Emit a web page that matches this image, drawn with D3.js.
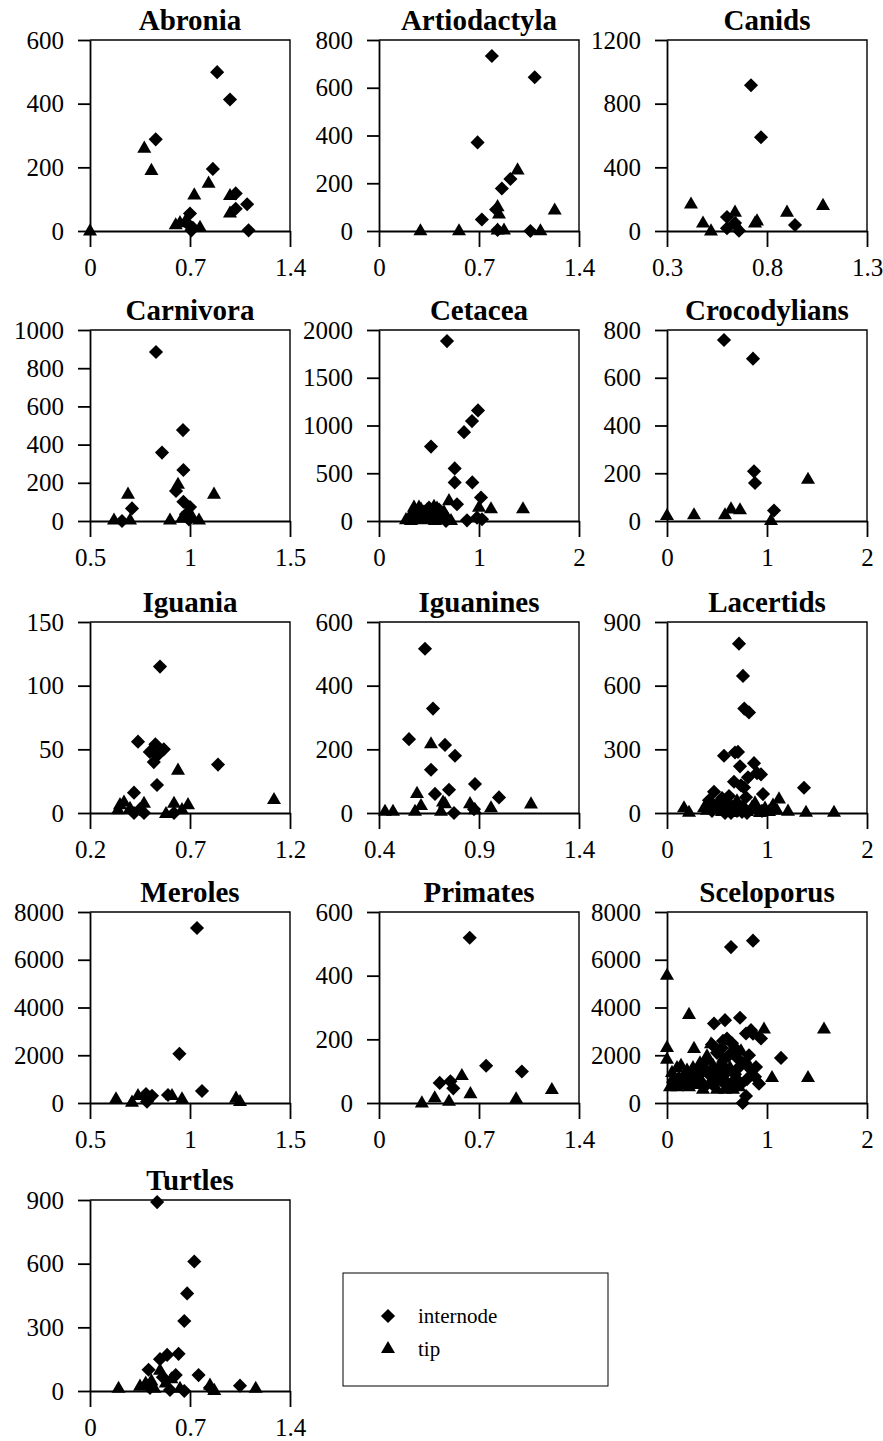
<!DOCTYPE html>
<html>
<head>
<meta charset="utf-8">
<script src="https://cdn.jsdelivr.net/npm/d3@7"></script>
<style>
  body { margin: 0; background: #fff; }
  text { font-family: "Liberation Serif", "Times New Roman", serif; fill: #000; }
</style>
</head>
<body>
<div id="chart"></div>
<script>
// panel titles, in reading order
var titles = ['Abronia', 'Artiodactyla', 'Canids', 'Carnivora', 'Cetacea', 'Crocodylians',
  'Iguania', 'Iguanines', 'Lacertids', 'Meroles', 'Primates', 'Sceloporus', 'Turtles'];

// tick values for each panel (x then y)
var xTickSets = [
  [0, 0.7, 1.4], [0, 0.7, 1.4], [0.3, 0.8, 1.3],
  [0.5, 1, 1.5], [0, 1, 2], [0, 1, 2],
  [0.2, 0.7, 1.2], [0.4, 0.9, 1.4], [0, 1, 2],
  [0.5, 1, 1.5], [0, 0.7, 1.4], [0, 1, 2],
  [0, 0.7, 1.4]
];
var yTickSets = [
  [0, 200, 400, 600], [0, 200, 400, 600, 800], [0, 400, 800, 1200],
  [0, 200, 400, 600, 800, 1000], [0, 500, 1000, 1500, 2000], [0, 200, 400, 600, 800],
  [0, 50, 100, 150], [0, 200, 400, 600], [0, 300, 600, 900],
  [0, 2000, 4000, 6000, 8000], [0, 200, 400, 600], [0, 2000, 4000, 6000, 8000],
  [0, 300, 600, 900]
];

// internode points (diamonds)
var abroniaInternode = [[0.89,499],[0.98,413],[0.46,288],[0.86,195],[1.02,118],[1.10,84],[1.02,70],[0.70,55],[1.11,2],[0.71,2],[0.69,20],[0.72,10]];
var artiodactylaInternode = [[0.79,733],[1.09,644],[0.69,371],[0.92,218],[0.86,178],[0.72,48],[0.82,90],[1.06,0],[0.83,4]];
var canidsInternode = [[0.72,916],[0.77,589],[0.60,88],[0.60,17],[0.66,2],[0.94,38],[0.64,50]];
var carnivoraInternode = [[0.83,885],[0.965,476],[0.86,358],[0.967,267],[0.93,157],[0.967,101],[1.0,73],[0.71,66],[0.66,0],[0.995,8],[0.98,35]];
var cetaceaInternode = [[0.68,1884],[0.99,1158],[0.93,1046],[0.85,930],[0.52,779],[0.757,551],[0.757,404],[0.933,404],[1.02,246],[0.78,175],[0.88,7],[0.67,0],[1.03,18],[0.98,35],[0.45,100],[0.55,50],[0.60,120],[0.40,60],[0.50,140],[0.63,80]];
var crocodyliansInternode = [[0.57,758],[0.86,680],[0.87,208],[0.88,159],[1.07,44]];
var iguaniaInternode = [[0.55,115],[0.44,56],[0.527,54],[0.569,50],[0.499,48],[0.519,40],[0.535,45],[0.84,38],[0.535,22],[0.42,16],[0.42,0],[0.47,0],[0.62,0],[0.45,3]];
var iguaninesInternode = [[0.63,516],[0.67,328],[0.55,232],[0.73,214],[0.78,180],[0.66,136],[0.88,91],[0.75,73],[0.68,60],[1.0,49],[0.775,0],[0.875,12]];
var lacertidsInternode = [[0.72,798],[0.76,646],[0.773,492],[0.82,474],[0.57,270],[0.68,285],[0.71,288],[0.73,220],[0.87,235],[0.90,188],[0.94,182],[0.67,147],[0.81,168],[0.77,120],[0.96,89],[1.37,119],[0.47,100],[0.79,74],[0.42,60],[0.50,40],[0.55,70],[0.60,50],[0.62,80],[0.65,30],[0.70,10],[0.75,5],[0.80,0],[0.85,20],[0.45,10],[0.58,0],[0.95,10],[1.05,20],[0.74,130],[0.64,0]];
var merolesInternode = [[1.035,7330],[0.947,2060],[1.06,504],[0.78,378],[0.81,300],[0.89,336],[0.785,56]];
var primatesInternode = [[0.635,519],[0.75,117],[1.0,99],[0.425,63],[0.50,68],[0.52,46]];
var sceloporusInternode = [[0.64,6530],[0.86,6800],[0.47,3330],[0.58,3470],[0.73,3570],[0.79,2910],[0.84,3050],[0.94,2700],[1.14,1890],[0.92,810],[0.89,1510],[0.79,294],[0.757,0],[0.60,2700],[0.65,2500],[0.55,2300],[0.45,2450],[0.50,2100],[0.62,2000],[0.70,1900],[0.78,1700],[0.84,1400],[0.88,1100],[0.40,1800],[0.35,1500],[0.30,1300],[0.42,1200],[0.48,1400],[0.55,1600],[0.60,1300],[0.68,1200],[0.72,1500],[0.80,1000],[0.25,1100],[0.20,900],[0.33,900],[0.45,800],[0.52,1000],[0.58,800],[0.66,900],[0.74,800],[0.15,1000],[0.38,700],[0.62,700],[0.56,2600],[0.68,2300],[0.82,2000],[0.86,2900]];
var turtlesInternode = [[0.47,890],[0.73,610],[0.68,460],[0.66,330],[0.62,175],[0.49,150],[0.54,170],[0.41,100],[0.51,65],[0.60,75],[0.76,75],[1.05,25],[0.84,15],[0.42,15],[0.56,5],[0.66,0]];

// tip points (triangles)
var abroniaTip = [[0.38,262],[0.43,192],[0.73,115],[0.83,152],[0.98,113],[0.98,58],[0.60,21],[0.63,28],[0.67,34],[0.77,13],[0.0,2]];
var artiodactylaTip = [[0.97,258],[1.23,90],[0.83,104],[0.84,73],[0.29,3],[0.56,3],[0.83,6],[0.875,6],[1.13,3]];
var canidsTip = [[0.42,173],[0.48,53],[0.52,4],[0.64,122],[0.645,46],[0.74,53],[0.75,67],[0.90,122],[1.08,164]];
var carnivoraTip = [[0.69,143],[1.12,143],[0.94,195],[0.62,8],[0.70,8],[0.90,8],[0.96,17],[1.045,8],[1.01,26]];
var cetaceaTip = [[1.44,133],[1.12,133],[0.70,218],[0.27,20],[0.30,40],[0.33,80],[0.35,150],[0.38,100],[0.40,150],[0.42,130],[0.45,60],[0.48,120],[0.52,90],[0.55,160],[0.58,140],[0.60,80],[0.62,50],[0.65,100],[0.32,10],[0.38,30],[0.44,20],[0.50,30],[0.56,10],[0.64,20],[0.68,40],[0.72,10],[1.0,150]];
var crocodyliansTip = [[0.0,25],[0.27,28],[0.58,28],[0.64,53],[0.73,49],[1.04,4],[1.41,177]];
var iguaniaTip = [[0.64,34],[1.12,11],[0.35,7],[0.37,9],[0.47,8],[0.58,0],[0.62,8],[0.69,7],[0.66,3],[0.34,3],[0.40,4]];
var iguaninesTip = [[0.66,219],[0.59,63],[0.61,25],[0.58,7],[0.43,7],[0.47,7],[0.72,36],[0.73,31],[0.71,7],[0.855,31],[0.88,12],[0.96,18],[1.16,30]];
var lacertidsTip = [[0.17,27],[0.22,6],[0.37,27],[1.12,69],[1.21,11],[1.39,6],[1.67,6],[0.40,15],[0.45,30],[0.50,20],[0.52,50],[0.55,10],[0.60,40],[0.63,25],[0.65,5],[0.68,35],[0.72,15],[0.76,40],[0.80,10],[0.85,30],[0.90,20],[0.93,5],[0.98,25],[1.02,10],[1.06,40],[1.10,15],[0.88,50],[0.70,60]];
var merolesTip = [[0.63,196],[0.71,56],[0.74,336],[0.91,336],[0.96,196],[1.23,224],[1.25,84]];
var primatesTip = [[0.58,88],[0.64,31],[0.30,2],[0.39,18],[0.49,7],[0.96,15],[1.21,44]];
var sceloporusTip = [[0.0,5370],[0.0,2350],[0.0,1860],[0.22,3730],[0.27,2310],[0.97,3120],[1.57,3120],[1.05,1090],[1.41,1090],[0.74,2210],[0.44,2500],[0.05,1300],[0.08,900],[0.10,1500],[0.12,1100],[0.14,1600],[0.16,800],[0.18,1200],[0.20,1400],[0.22,700],[0.24,1000],[0.26,1500],[0.28,800],[0.30,1100],[0.33,1700],[0.36,600],[0.38,1300],[0.40,2000],[0.43,900],[0.46,1600],[0.50,600],[0.53,1200],[0.56,1900],[0.60,900],[0.63,1500],[0.66,600],[0.70,1100],[0.72,700],[0.03,700],[0.06,1050],[0.10,700],[0.34,1000],[0.48,1100],[0.58,600]];
var turtlesTip = [[0.20,15],[1.16,15],[0.49,100],[0.53,40],[0.57,60],[0.35,25],[0.39,40],[0.43,50],[0.63,15],[0.84,30],[0.87,5],[0.45,15]];

var internodeSets = [abroniaInternode, artiodactylaInternode, canidsInternode, carnivoraInternode,
  cetaceaInternode, crocodyliansInternode, iguaniaInternode, iguaninesInternode, lacertidsInternode,
  merolesInternode, primatesInternode, sceloporusInternode, turtlesInternode];
var tipSets = [abroniaTip, artiodactylaTip, canidsTip, carnivoraTip, cetaceaTip, crocodyliansTip,
  iguaniaTip, iguaninesTip, lacertidsTip, merolesTip, primatesTip, sceloporusTip, turtlesTip];

var legendLabels = ['internode', 'tip'];

// layout
var w = 883, h = 1441;
var colLeft = [90, 379, 667],
  rowTop = [40, 330, 622, 912, 1200],
  pw = 200, ph = 191;

var svg = d3.select('#chart').append('svg')
  .attr('width', w)
  .attr('height', h);

var diamond = d3.symbol().type(d3.symbolSquare).size(100)();
var triangle = d3.symbol().type(d3.symbolTriangle).size(85)();

titles.forEach(function(t, i) {
  var left = colLeft[i % 3],
    top = rowTop[Math.floor(i / 3)];
  var xt = xTickSets[i], yt = yTickSets[i];

  var x = d3.scaleLinear().domain([xt[0], xt[xt.length - 1]]).range([0, pw]);
  var y = d3.scaleLinear().domain([0, yt[yt.length - 1]]).range([ph, 0]);

  var g = svg.append('g').attr('transform', 'translate(' + left + ',' + top + ')');

  // top and right border of the plot area
  g.append('path')
    .attr('d', 'M0,0H' + pw + 'V' + ph)
    .attr('fill', 'none')
    .attr('stroke', '#000')
    .attr('stroke-width', 1.4);

  // y axis
  var yAxis = g.append('g')
    .call(d3.axisLeft(y).tickValues(yt).tickSize(12).tickSizeOuter(0).tickPadding(14)
      .tickFormat(d3.format('d')));

  // x axis at y = 0
  var xAxis = g.append('g')
    .attr('transform', 'translate(0,' + y(0) + ')')
    .call(d3.axisBottom(x).tickValues(xt).tickSize(16).tickSizeOuter(0).tickPadding(11)
      .tickFormat(function(d) { return String(d); }));

  [yAxis, xAxis].forEach(function(a) {
    a.attr('font-family', null);
    a.select('.domain').attr('stroke-width', 1.8);
    a.selectAll('.tick line').attr('stroke-width', 1.8);
    a.selectAll('text').attr('font-size', 25);
  });

  g.append('text')
    .attr('x', pw / 2)
    .attr('y', -10)
    .attr('text-anchor', 'middle')
    .attr('font-size', 29)
    .attr('font-weight', 'bold')
    .text(t);

  g.selectAll('.internode')
    .data(internodeSets[i])
    .enter().append('path')
    .attr('class', 'internode')
    .attr('d', diamond)
    .attr('transform', function(d) {
      return 'translate(' + x(d[0]) + ',' + y(d[1]) + ') rotate(45)';
    })
    .attr('fill', '#000');

  g.selectAll('.tip')
    .data(tipSets[i])
    .enter().append('path')
    .attr('class', 'tip')
    .attr('d', triangle)
    .attr('transform', function(d) {
      return 'translate(' + x(d[0]) + ',' + (y(d[1]) + 1) + ')';
    })
    .attr('fill', '#000');
});

// legend
var legend = svg.append('g').attr('transform', 'translate(343,1273)');
legend.append('rect')
  .attr('width', 265)
  .attr('height', 113)
  .attr('fill', 'none')
  .attr('stroke', '#000')
  .attr('stroke-width', 1);

legendLabels.forEach(function(l, i) {
  var yy = 43 + i * 33;
  legend.append('path')
    .attr('d', i === 0 ? diamond : triangle)
    .attr('transform', 'translate(45,' + yy + ')' + (i === 0 ? ' rotate(45)' : ''))
    .attr('fill', '#000');
  legend.append('text')
    .attr('x', 75)
    .attr('y', yy + 7)
    .attr('font-size', 21)
    .text(l);
});
</script>
</body>
</html>
